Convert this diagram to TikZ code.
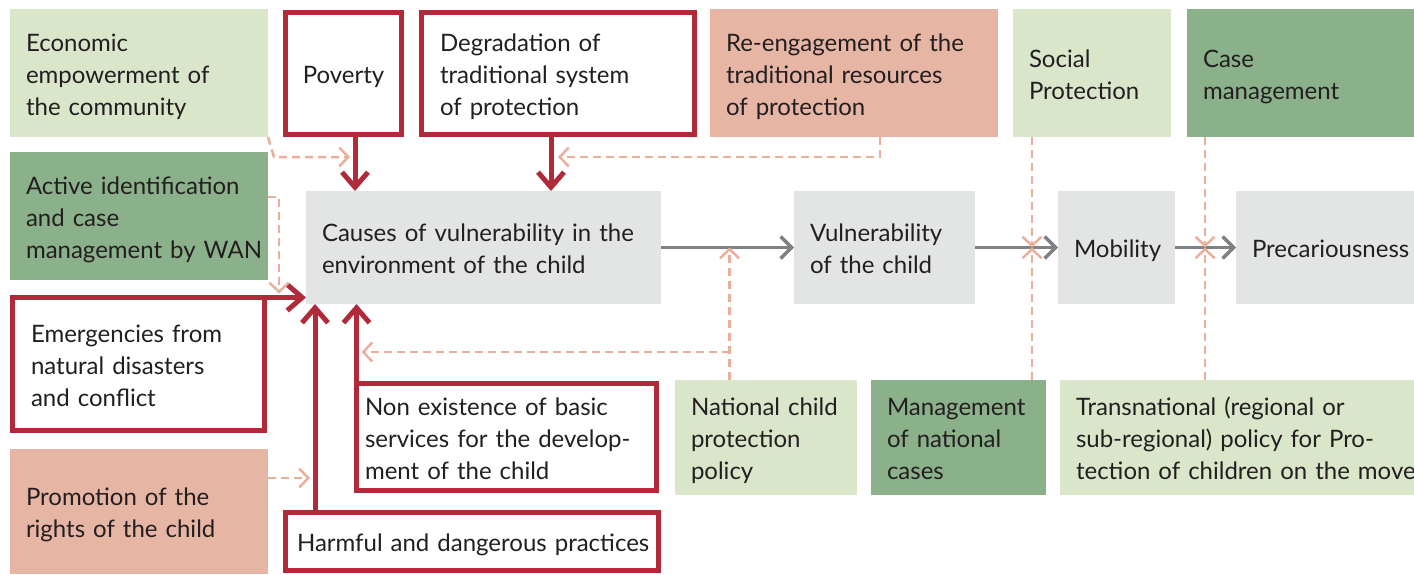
\documentclass[tikz,border=0pt]{standalone}
\usepackage{fontspec}
\setmainfont{Lato}
\usetikzlibrary{arrows.meta}

\definecolor{ink}{HTML}{231F20}
\definecolor{lgreen}{HTML}{DAE6CA}
\definecolor{mgreen}{HTML}{8BB18A}
\definecolor{salmon}{HTML}{E7B5A4}
\definecolor{graybox}{HTML}{E3E5E4}
\definecolor{causered}{HTML}{B02A3A}
\definecolor{dashcol}{HTML}{EBAE9B}
\definecolor{flowgray}{HTML}{808184}

% lines set exactly as broken, ink lowered a little inside an unchanged box
\newcommand\boxlines[1]{%
  \setbox0\hbox{\lower4pt\hbox{\begin{tabular}{@{}l@{}}#1\end{tabular}}}%
  \ht0=\dimexpr\ht0+4pt\relax
  \dp0=\dimexpr\dp0-4pt\relax
  \box0}

\tikzset{
  box/.style={anchor=north west, inner sep=0pt, inner xsep=16pt, outer sep=0pt,
    text=ink, font=\fontsize{24}{32}\selectfont},
  redbox/.style={box, draw=causered, line width=5pt, fill=white},
  redarr/.style={draw=causered, line width=5pt,
    -{Straight Barb[length=15pt,width=26pt]}},
  grayarr/.style={draw=flowgray, line width=3.5pt,
    -{Straight Barb[length=11pt,width=22pt]}},
  dasharr/.style={draw=dashcol, line width=2.5pt, dash pattern=on 8pt off 5pt,
    -{Straight Barb[length=9pt,width=19pt]}}
}

\begin{document}
\begin{tikzpicture}[x=1pt,y=-1pt]
\useasboundingbox (0,0) rectangle (1414,574);

% top row
\node[box, fill=lgreen, minimum width=258pt, minimum height=128pt, text width=226pt]
  (econ) at (10,9) {\boxlines{Economic\\empowerment of\\the community}};
\node[redbox, minimum width=116pt, minimum height=122pt, align=center, inner xsep=0pt]
  (poverty) at (285.5,12.5) {\boxlines{Poverty}};
\node[redbox, minimum width=273pt, minimum height=122pt, inner xsep=18.5pt, text width=236pt]
  (degr) at (421.5,12.5) {\boxlines{Degradation of\\traditional system\\of protection}};
\node[box, fill=salmon, minimum width=288pt, minimum height=128pt, text width=256pt]
  (reeng) at (710,9) {\boxlines{Re-engagement of the\\traditional resources\\of protection}};
\node[box, fill=lgreen, minimum width=158pt, minimum height=128pt, text width=126pt]
  (social) at (1013,9) {\boxlines{Social\\Protection}};
\node[box, fill=mgreen, minimum width=227pt, minimum height=128pt, text width=195pt]
  (casem) at (1187,9) {\boxlines{Case\\management}};

% left column
\node[box, fill=mgreen, minimum width=258pt, minimum height=128pt, text width=226pt]
  (active) at (10,152) {\boxlines{Active identification\\and case\\management by WAN}};
\node[redbox, minimum width=252pt, minimum height=133pt, inner xsep=18.5pt, text width=215pt]
  (emerg) at (12.5,297.5) {\boxlines{Emergencies from\\natural disasters\\and conflict}};
\node[box, fill=salmon, minimum width=258pt, minimum height=125pt, text width=226pt]
  (promo) at (10,449) {\boxlines{Promotion of the\\rights of the child}};

% main chain
\node[box, fill=graybox, minimum width=355pt, minimum height=113pt, text width=323pt]
  (causes) at (306,191) {\boxlines{Causes of vulnerability in the\\environment of the child}};
\node[box, fill=graybox, minimum width=181pt, minimum height=113pt, text width=149pt]
  (vuln) at (794,191) {\boxlines{Vulnerability\\of the child}};
\node[box, fill=graybox, minimum width=117pt, minimum height=113pt, text width=85pt]
  (mob) at (1058,191) {\boxlines{Mobility}};
\node[box, fill=graybox, minimum width=178pt, minimum height=113pt, text width=146pt]
  (prec) at (1236,191) {\boxlines{Precariousness}};

% lower boxes
\node[redbox, minimum width=300pt, minimum height=107pt, inner xsep=8.5pt, text width=283pt]
  (nonex) at (356.5,383.5) {\boxlines{Non existence of basic\\services for the develop-\\ment of the child}};
\node[redbox, minimum width=373pt, minimum height=58pt, inner xsep=11.5pt, text width=350pt]
  (harm) at (285.5,512.5) {\boxlines{Harmful and dangerous practices}};
\node[box, fill=lgreen, minimum width=182pt, minimum height=115pt, text width=150pt]
  (national) at (675,380) {\boxlines{National child\\protection\\policy}};
\node[box, fill=mgreen, minimum width=175pt, minimum height=115pt, text width=143pt]
  (mgmt) at (871,380) {\boxlines{Management\\of national\\cases}};
\node[box, fill=lgreen, minimum width=354pt, minimum height=115pt, text width=322pt]
  (trans) at (1060,380) {\boxlines{Transnational (regional or\\sub-regional) policy for Pro-\\tection of children on the move}};

% causes feeding the environment
\coordinate (povx) at ([xshift=11.5pt]poverty.south);
\coordinate (degx) at ([xshift=-7pt]degr.south);
\coordinate (harmx) at ([xshift=29.5pt]harm.north west);
\draw[redarr] (povx) -- (povx |- causes.north);
\draw[redarr] (degx) -- (degx |- causes.north);
\draw[redarr] (emerg.north east) -- (emerg.north east -| causes.west);
\draw[redarr] (harmx) -- (harmx |- causes.south);
\draw[redarr] (nonex.north west) -- (nonex.north west |- causes.south);

% main flow
\draw[grayarr] (causes.east) -- (vuln.west);
\draw[grayarr] (vuln.east) -- (mob.west);
\draw[grayarr] (mob.east) -- (prec.west);

% responses
\draw[dasharr] (econ.south east) -- ++(6,20) coordinate (e1) -- ([xshift=-5pt]e1 -| povx);
\draw[dasharr] ([xshift=26pt]reeng.south) -- ++(0,20) coordinate (r1) -- ([xshift=7pt]r1 -| degx);
\draw[dasharr] ([yshift=-45pt]active.north east) -- ++(11,0) coordinate (a1) -- ([yshift=4pt]a1 |- emerg.north);
\draw[dasharr] ([yshift=-29pt]promo.north east) -- ([xshift=-5pt,yshift=-29pt]promo.north east -| harmx);

\coordinate (n1) at ([xshift=54.5pt]national.north west);
\coordinate (nb) at (729.5,352);
\draw[dasharr] (n1) -- (n1 |- causes.east);
\draw[dasharr] (nb) -- ([xshift=5pt]nb -| nonex.north west);

\coordinate (sx) at ([xshift=19pt]social.south west);
\coordinate (cx) at ([xshift=18pt]casem.south west);
\draw[dasharr] (sx) -- (sx |- vuln.east);
\draw[dasharr] (sx |- mgmt.north) -- (sx |- vuln.east);
\draw[dasharr] (cx) -- (cx |- mob.east);
\draw[dasharr] (cx |- trans.north) -- (cx |- mob.east);
\end{tikzpicture}
\end{document}
